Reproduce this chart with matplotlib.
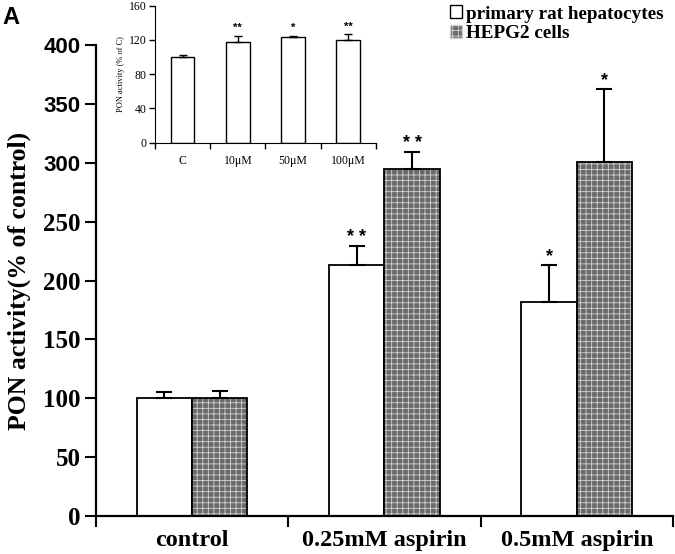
import matplotlib
matplotlib.use("Agg")
import matplotlib.pyplot as plt
import matplotlib.patches as mpatches
import numpy as np

# main panel data
groups = ["control", "0.25mM aspirin", "0.5mM aspirin"]
hepatocytes = [100, 213, 182]
hepatocytes_err = [5, 16, 31]
hepg2 = [100, 295, 301]
hepg2_err = [6, 14, 62]
hepatocytes_stars = ["", "* *", "*"]
hepg2_stars = ["", "* *", "*"]

# inset data
inset_labels = ["C", "10\u03bcM", "50\u03bcM", "100\u03bcM"]
inset_values = [100, 118, 123, 120]
inset_err = [3, 7, 1.5, 6.5]
inset_stars = ["", "**", "*", "**"]

SERIF = "Liberation Serif"
SANS = "Liberation Sans"
HATCH_FACE = "#6a6a6a"
HATCH_LINE = "#d2d2d2"

plt.rcParams["hatch.linewidth"] = 0.6


def hatched_bar(ax, x, h, w):
    ax.bar(x, h, w, color=HATCH_FACE, edgecolor=HATCH_LINE, hatch="+++", linewidth=0)
    ax.bar(x, h, w, facecolor="none", edgecolor="black", linewidth=1.3)


def add_errors(ax, x, vals, errs, capsize, lw):
    ax.errorbar(x, vals, yerr=[np.zeros(len(errs)), errs], fmt="none",
                ecolor="black", elinewidth=lw, capsize=capsize, capthick=lw)


def add_stars(ax, x, vals, errs, stars, size, off):
    for xi, v, e, s in zip(x, vals, errs, stars):
        if s:
            ax.annotate(s, (xi, v + e), xytext=(0, off), textcoords="offset points",
                        ha="center", va="bottom", fontsize=size,
                        fontfamily=SANS, fontweight="bold")


fig = plt.figure(figsize=(6.75, 5.54), dpi=100)

# ---- main axes ----
ax = fig.add_axes([0.142, 0.0686, 0.855, 0.850])
x = np.arange(len(groups))
w = 0.288
ax.bar(x - w / 2, hepatocytes, w, color="white", edgecolor="black", linewidth=1.3)
for xi, h in zip(x + w / 2, hepg2):
    hatched_bar(ax, xi, h, w)
add_errors(ax, x - w / 2, hepatocytes, hepatocytes_err, 5.5, 1.5)
add_errors(ax, x + w / 2, hepg2, hepg2_err, 5.5, 1.5)
add_stars(ax, x - w / 2, hepatocytes, hepatocytes_err, hepatocytes_stars, 13, 0)
add_stars(ax, x + w / 2, hepg2, hepg2_err, hepg2_stars, 13, 0)

ax.set_xlim(-0.5, len(groups) - 0.5)
ax.set_ylim(0, 400)
ax.set_yticks(np.arange(0, 401, 50))
ax.set_xticks(np.arange(-0.5, len(groups), 1.0))
ax.set_xticklabels([])
ax.set_xticks(x, minor=True)
ax.set_xticklabels(groups, minor=True, fontfamily=SERIF, fontweight="bold", fontsize=17.5)
ax.tick_params(axis="x", which="minor", length=0, pad=10)
ax.tick_params(axis="x", which="major", length=8, width=1.5, direction="out")
ax.tick_params(axis="y", length=8, width=1.5, direction="out", pad=3)
for lab in ax.get_yticklabels():
    lab.set_fontweight("bold")
    # the top three labels are set in a sans face in the original figure
    if lab.get_position()[1] >= 300:
        lab.set_fontfamily(SANS)
        lab.set_fontsize(16)
    else:
        lab.set_fontfamily(SERIF)
        lab.set_fontsize(18)
for side in ["top", "right"]:
    ax.spines[side].set_visible(False)
for side in ["left", "bottom"]:
    ax.spines[side].set_linewidth(1.6)
ax.set_ylabel("PON activity(% of control)", fontfamily=SERIF, fontweight="bold",
              fontsize=18.5, labelpad=9)

fig.text(0.004, 0.99, "A", fontfamily=SANS, fontweight="bold", fontsize=17,
         ha="left", va="top")

# legend
handles = [
    mpatches.Patch(facecolor="white", edgecolor="black", linewidth=1.0,
                   label="primary rat hepatocytes"),
    mpatches.Patch(facecolor=HATCH_FACE, edgecolor=HATCH_LINE, hatch="+++",
                   label="HEPG2 cells"),
]
fig.legend(handles=handles, loc="upper left", bbox_to_anchor=(0.655, 1.004),
           frameon=False, prop={"family": SERIF, "weight": "bold", "size": 13.8},
           handlelength=0.65, handleheight=0.65, handletextpad=0.2,
           labelspacing=0.12, borderaxespad=0)

# ---- inset ----
ins = fig.add_axes([0.2296, 0.7424, 0.3274, 0.2473])
xi = np.arange(len(inset_labels))
ins.bar(xi, inset_values, 0.43, color="white", edgecolor="black", linewidth=1.0)
add_errors(ins, xi, inset_values, inset_err, 3, 1.0)
add_stars(ins, xi, inset_values, inset_err, inset_stars, 8, 2)
ins.set_xlim(-0.5, len(inset_labels) - 0.5)
ins.set_ylim(0, 160)
ins.set_yticks(np.arange(0, 161, 40))
ins.set_xticks(np.arange(-0.5, len(inset_labels), 1.0))
ins.set_xticklabels([])
ins.set_xticks(xi, minor=True)
ins.set_xticklabels(inset_labels, minor=True, fontfamily=SERIF, fontsize=8.5)
ins.tick_params(axis="x", which="minor", length=0, pad=9)
ins.tick_params(axis="x", which="major", length=4, width=1.0)
ins.tick_params(axis="y", length=4, width=1.0, pad=2, labelsize=8.5)
for lab in ins.get_yticklabels():
    lab.set_fontfamily(SERIF)
for side in ["top", "right"]:
    ins.spines[side].set_visible(False)
ins.set_ylabel("PON activity (% of C)", fontfamily=SERIF, fontsize=6, labelpad=3)

fig.savefig("out.png", dpi=100)
